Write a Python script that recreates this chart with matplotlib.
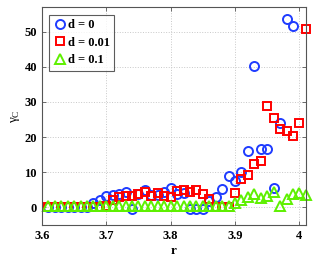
import numpy as np
import matplotlib
matplotlib.use("Agg")
import matplotlib.pyplot as plt

plt.rcParams['font.family'] = ['Liberation Serif', 'DejaVu Serif']
plt.rcParams['font.weight'] = 'bold'

# parameter r
r_vals = [3.61, 3.62, 3.63, 3.64, 3.65, 3.66, 3.67, 3.68, 3.69, 3.70,
          3.71, 3.72, 3.73, 3.74, 3.75, 3.76, 3.77, 3.78, 3.79, 3.80,
          3.81, 3.82, 3.83, 3.84, 3.85, 3.86, 3.87, 3.88, 3.89, 3.90,
          3.91, 3.92, 3.93, 3.94, 3.95, 3.96, 3.97, 3.98, 3.99, 4.00, 4.01]

# gamma_C for d = 0
gamma_d0 = [0, 0, 0, 0, 0, 0, 0.2, 1.1, 2.2, 3.1,
            3.5, 3.8, 4.5, -0.5, 3.8, 4.8, 3.5, 3.6, 4.3, 5.5,
            3.8, 4.0, -0.5, -0.5, -0.5, 1.9, 3.0, 5.1, 9.0, 7.4,
            10.0, 16.0, 40.2, 16.5, 16.5, 5.5, 24.0, 53.6, 51.6, np.nan, np.nan]

# gamma_C for d = 0.01
gamma_d001 = [0, 0, 0, 0, 0, 0, 0, 0, 0, 0.3,
              2.2, 2.9, 3.3, 3.3, 3.9, 4.5, 3.3, 4.0, 3.3, 2.9,
              4.6, 5.0, 4.5, 5.0, 3.8, 2.4, 0.2, 0.2, 0.2, 4.0,
              8.0, 9.3, 12.2, 13.1, 28.8, 25.5, 22.4, 21.6, 20.2, 24.1, 50.8]

# gamma_C for d = 0.1
gamma_d01 = [0.3] * 28 + [0.5, 1.2, 2.1, 2.9, 3.8, 2.6, 3.3, 4.4, 0.3, 2.4, 3.9, 4.2, 3.4]

fig = plt.figure(figsize=(3.15, 2.71), dpi=100)
ax = fig.add_axes([0.133, 0.170, 0.838, 0.804])

ms = 6.5
mew = 1.4
ax.plot(r_vals, gamma_d0, 'o', color='none', mec='#1f3cff', mew=mew, ms=ms,
        clip_on=False, label='d = 0')
ax.plot(r_vals, gamma_d001, 's', color='none', mec='#ff0000', mew=mew, ms=ms - 0.5,
        clip_on=False, label='d = 0.01')
ax.plot(r_vals, gamma_d01, '^', color='none', mec='#5ef000', mew=mew, ms=ms + 0.5,
        clip_on=False, label='d = 0.1')

ax.set_xlim(3.6, 4.01)
ax.set_ylim(-5, 57)
ax.set_xticks([3.6, 3.7, 3.8, 3.9, 4.0])
ax.set_xticklabels(['3.6', '3.7', '3.8', '3.9', '4'])
ax.set_yticks([0, 10, 20, 30, 40, 50])

ax.grid(True, linestyle=':', color='#c8c8c8', linewidth=0.7)
ax.tick_params(direction='in', top=True, right=True, labelsize=9,
               length=3, width=0.6, color='#555555')
for sp in ax.spines.values():
    sp.set_color('#555555')
    sp.set_linewidth(0.8)

ax.set_xlabel('r', fontsize=9.5, fontweight='bold', labelpad=2)
ax.set_ylabel('γ$_\\mathregular{C}$', fontsize=9.5, labelpad=2)

leg = ax.legend(loc='upper left', fontsize=9, frameon=True, fancybox=False,
                edgecolor='#333333', handletextpad=0.1, handlelength=1.0,
                borderpad=0.35, labelspacing=0.45, borderaxespad=0.6)
leg.get_frame().set_linewidth(0.8)
for t in leg.get_texts():
    t.set_fontweight('bold')

fig.savefig('out.png', dpi=100)
